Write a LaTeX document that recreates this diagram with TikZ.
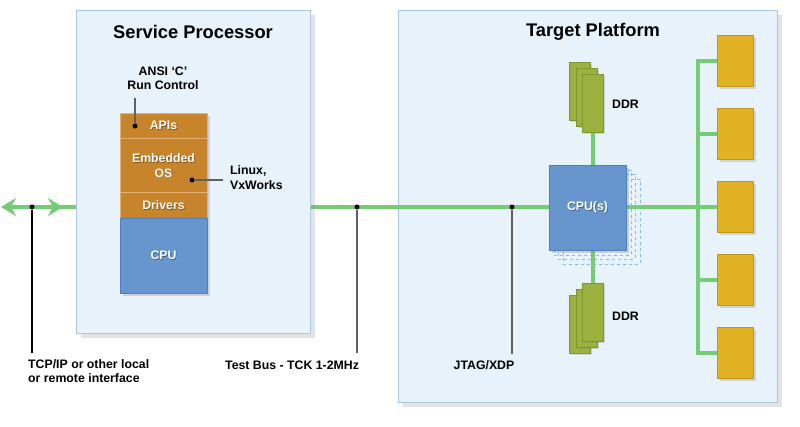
\documentclass[tikz,border=0pt]{standalone}
\usepackage{fontspec}
\setmainfont{Liberation Sans}
\usetikzlibrary{shadows,arrows.meta,calc}
\definecolor{panelfill}{HTML}{E7F2FA}
\definecolor{panelline}{HTML}{A9C7E3}
\definecolor{orangefill}{HTML}{C8842B}
\definecolor{orangeline}{HTML}{E3B072}
\definecolor{cpufill}{HTML}{6796CE}
\definecolor{cpuline}{HTML}{5080BA}
\definecolor{busgreen}{HTML}{74CC74}
\definecolor{ddrfill}{HTML}{9CB140}
\definecolor{ddrline}{HTML}{7E9530}
\definecolor{yelfill}{HTML}{E1B324}
\definecolor{yelline}{HTML}{BF961B}
\definecolor{dashblue}{HTML}{8DB7E6}
\definecolor{leadgray}{HTML}{606060}
\tikzset{bustip/.tip={Stealth[length=15pt,width=18pt,inset=5pt]}}
\newcommand{\wtxt}[3]{%
  \node[wtext,text=black,opacity=0.35] at ($(#2)+(0.8,0.8)$) {#3};
  \node[wtext] (#1) at (#2) {#3};}
\begin{document}
\begin{tikzpicture}[x=1pt,y=-1pt,
  panel/.style={draw=panelline,fill=panelfill,line width=1pt,anchor=north west,
    drop shadow={shadow xshift=4pt,shadow yshift=-4pt,opacity=0.22}},
  layer/.style={draw=orangeline,fill=orangefill,line width=0.8pt,anchor=north west,
    minimum width=87,inner sep=0},
  cpubox/.style={draw=cpuline,fill=cpufill,line width=0.8pt,anchor=north west,inner sep=0},
  ghost/.style={draw=dashblue,dashed,line width=0.7pt,anchor=north west,inner sep=0,
    minimum width=77,minimum height=85},
  card/.style={draw=ddrline,fill=ddrfill,line width=0.7pt,anchor=north west,inner sep=0,
    minimum width=21,minimum height=58,
    drop shadow={shadow xshift=2pt,shadow yshift=-2pt,opacity=0.25}},
  periph/.style={draw=yelline,fill=yelfill,line width=0.8pt,anchor=west,inner sep=0,
    minimum width=36,minimum height=51,
    drop shadow={shadow xshift=2.5pt,shadow yshift=-2.5pt,opacity=0.25}},
  bus/.style={draw=busgreen,line width=4.5pt},
  title/.style={font=\bfseries\fontsize{18.3}{21}\selectfont,inner sep=0},
  lbl/.style={font=\bfseries\fontsize{12.3}{14.5}\selectfont,inner sep=0},
  wtext/.style={font=\bfseries\fontsize{12.3}{14.5}\selectfont,inner sep=0,text=white,align=center},
  dot/.style={circle,fill=black,inner sep=0,minimum size=5},
  lead/.style={draw=black,line width=1.1pt},
  leadg/.style={draw=leadgray,line width=1.1pt}
]
\useasboundingbox (0,0) rectangle (800,426);

% panels
\node[panel,minimum width=379,minimum height=392] (tp) at (398,10) {};
\node[title] at (593,32) {Target Platform};

% bus coordinates
\coordinate (lt) at (1,207);
\coordinate (rt) at (63,207);

% CPU(s) with ghost copies
\node[ghost] (g3) at (562.5,178.5) {};
\node[ghost] (g2) at (558,174) {};
\node[ghost] (g1) at (553.5,169.5) {};

% DDR stacks
\node[card] (dt3) at (569,62) {};
\node[card] (dt2) at (575.5,68) {};
\node[card] (dt1) at (582,74) {};
\node[card] (db3) at (569,295) {};
\node[card] (db2) at (575.5,289) {};
\node[card] (db1) at (582,283) {};
\node[lbl,anchor=base west] at (612,108) {DDR};
\node[lbl,anchor=base west] at (612,320) {DDR};

% peripherals
\node[periph] (y1) at (717,61) {};
\node[periph] (y2) at (717,134) {};
\node[periph] (y3) at (717,207) {};
\node[periph] (y4) at (717,280) {};
\node[periph] (y5) at (717,353) {};

% green connections inside target platform
\draw[bus] (dt1.south) -- (db1.north);
\draw[bus] (y1.west) -- ++(-19,0) |- (y5.west);
\draw[bus] (y2.west) -- ++(-19,0);
\draw[bus] (y4.west) -- ++(-19,0);
\draw[bus] (tp.west |- rt) -- (y3.west);

\node[cpubox,minimum width=77,minimum height=85,
  drop shadow={shadow xshift=3pt,shadow yshift=-3pt,opacity=0.3}] (cpu) at (549,165) {};
\wtxt{cpulbl}{587.5,207.5}{CPU(s)}

% left bus and arrow
\draw[bus] (50,207) -- (100,207);
\draw[bus,bustip-bustip] (lt) -- (rt);
\draw[bus] (300,207) -- (tp.west |- rt);

% service processor panel
\node[panel,minimum width=234,minimum height=323] (sp) at (76,10) {};
\node[title] at (193,32) {Service Processor};

% stack
\path[draw=none,fill=black!40,opacity=0.001,
  drop shadow={shadow xshift=3pt,shadow yshift=-3pt,opacity=0.28}] (120,113) rectangle (207,293);
\node[layer,minimum height=25] (apis) at (120,113) {};
\node[layer,minimum height=54] (eos) at (120,138) {};
\node[layer,minimum height=26] (drv) at (120,192) {};
\node[cpubox,minimum width=87,minimum height=75] (spcpu) at (120,218) {};
\wtxt{apilbl}{163.5,125.5}{APIs}
\wtxt{eoslbl}{163.5,165.5}{Embedded\\OS}
\wtxt{drvlbl}{163.5,205}{Drivers}
\wtxt{cpulbl2}{163.5,255.5}{CPU}

% annotations in service processor
\node[lbl,align=center] (ansi) at (163,78.5) {ANSI ‘C’\\Run Control};
\node[dot] (d1) at (135,126) {};
\draw[leadg] (d1) -- (135,98);
\node[lbl,align=left,anchor=west] (linux) at (230,177.5) {Linux,\\VxWorks};
\node[dot] (d2) at (192,180) {};
\draw[leadg] (d2) -- (223,180);

% bus taps
\node[dot] (t1) at (32,207) {};
\node[dot] (t2) at (357,207) {};
\node[dot] (t3) at (512,207) {};
\node[lbl,align=left,anchor=north west] (tcp) at (28,359) {TCP/IP or other local\\or remote interface};
\node[lbl,anchor=base west] (tb) at (225,369) {Test Bus - TCK 1-2MHz};
\node[lbl,anchor=base] (jtag) at (484,369) {JTAG/XDP};
\draw[lead] (t1) -- (32,353);
\draw[leadg] (t2) -- (357,353);
\draw[leadg] (t3) -- (512,354);
\end{tikzpicture}
\end{document}
